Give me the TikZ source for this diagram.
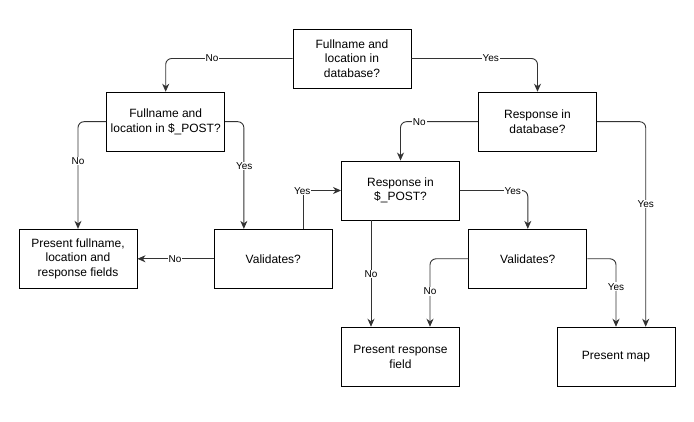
\documentclass[tikz,border=0pt]{standalone}
\usepackage{fontspec}
\setmainfont{Liberation Sans}
\usetikzlibrary{arrows.meta,calc}
\begin{document}
\begin{tikzpicture}[x=1pt,y=-1pt,
  box/.style={draw=black,line width=0.9pt,fill=white,minimum width=118pt,minimum height=59pt,
    align=center,inner sep=2pt,font=\fontsize{12}{14.5}\selectfont},
  conn/.style={draw=black!80,line width=0.9pt,rounded corners=6pt,
    -{Stealth[length=8pt,width=7pt,inset=2.5pt]}},
  plain/.style={draw=black!80,line width=0.9pt,rounded corners=6pt},
  lbl/.style={fill=white,inner sep=1pt,font=\fontsize{10}{12}\selectfont}]
\useasboundingbox (0,0) rectangle (694,422);
% boxes
\node[box] (top) at (352,58.5) {Fullname and\\location in\\database?};
\node[box] (post1) at (165.7,121.7) {Fullname and\\location in \$\_POST?};
\node[box] (respdb) at (537.5,121.7) {Response in\\database?};
\node[box] (resppost) at (400.5,190.5) {Response in\\\$\_POST?};
\node[box] (presfull) at (78,258.8) {Present fullname,\\location and\\response fields};
\node[box] (val1) at (273.3,258.8) {Validates?};
\node[box] (val2) at (527.8,258.8) {Validates?};
\node[box] (presresp) at (400.5,356.7) {Present response\\field};
\node[box] (map) at (616,356.7) {Present map};
% helper coordinates
\coordinate (post1yes) at ($(val1.north west)+(30,0)$);
\coordinate (val1top) at ($(val1.north east)+(-29.6,0)$);
\coordinate (mapright) at ($(map.north)+(29.7,0)$);
\coordinate (respno) at ($(resppost.south)+(-29.5,0)$);
\coordinate (val2no) at ($(presresp.north)+(29.5,0)$);
% connectors
\draw[conn] (top.west) -| (post1.north);
\draw[conn] (top.east) -| (respdb.north);
\draw[conn] (post1.west) -| (presfull.north);
\draw[conn] (post1.east) -| (post1yes);
\draw[conn] (val1.west) -- (presfull.east);
\draw[conn,rounded corners=0pt] (val1top) |- (resppost.west);
\draw[conn] (respdb.west) -| (resppost.north);
\draw[conn] (respdb.east) -| (mapright);
\draw[conn] (resppost.east) -| (val2.north);
\draw[conn] (respno) -- (respno |- presresp.north);
\draw[conn] (val2.west) -| (val2no);
\draw[conn] (val2.east) -| (map.north);
% labels
\node[lbl] (l1) at (212,58.3) {No};
\node[lbl] (l2) at (490.7,58.3) {Yes};
\node[lbl] (l3) at (78,161) {No};
\node[lbl] (l4) at (244.3,166) {Yes};
\node[lbl] (l5) at (175,259) {No};
\node[lbl] (l6) at (302.2,190.7) {Yes};
\node[lbl] (l7) at (419.3,122.3) {No};
\node[lbl] (l8) at (645.7,204) {Yes};
\node[lbl] (l9) at (512.7,191) {Yes};
\node[lbl] (l10) at (371,274) {No};
\node[lbl] (l11) at (430,291.3) {No};
\node[lbl] (l12) at (616,286.7) {Yes};
\end{tikzpicture}
\end{document}
